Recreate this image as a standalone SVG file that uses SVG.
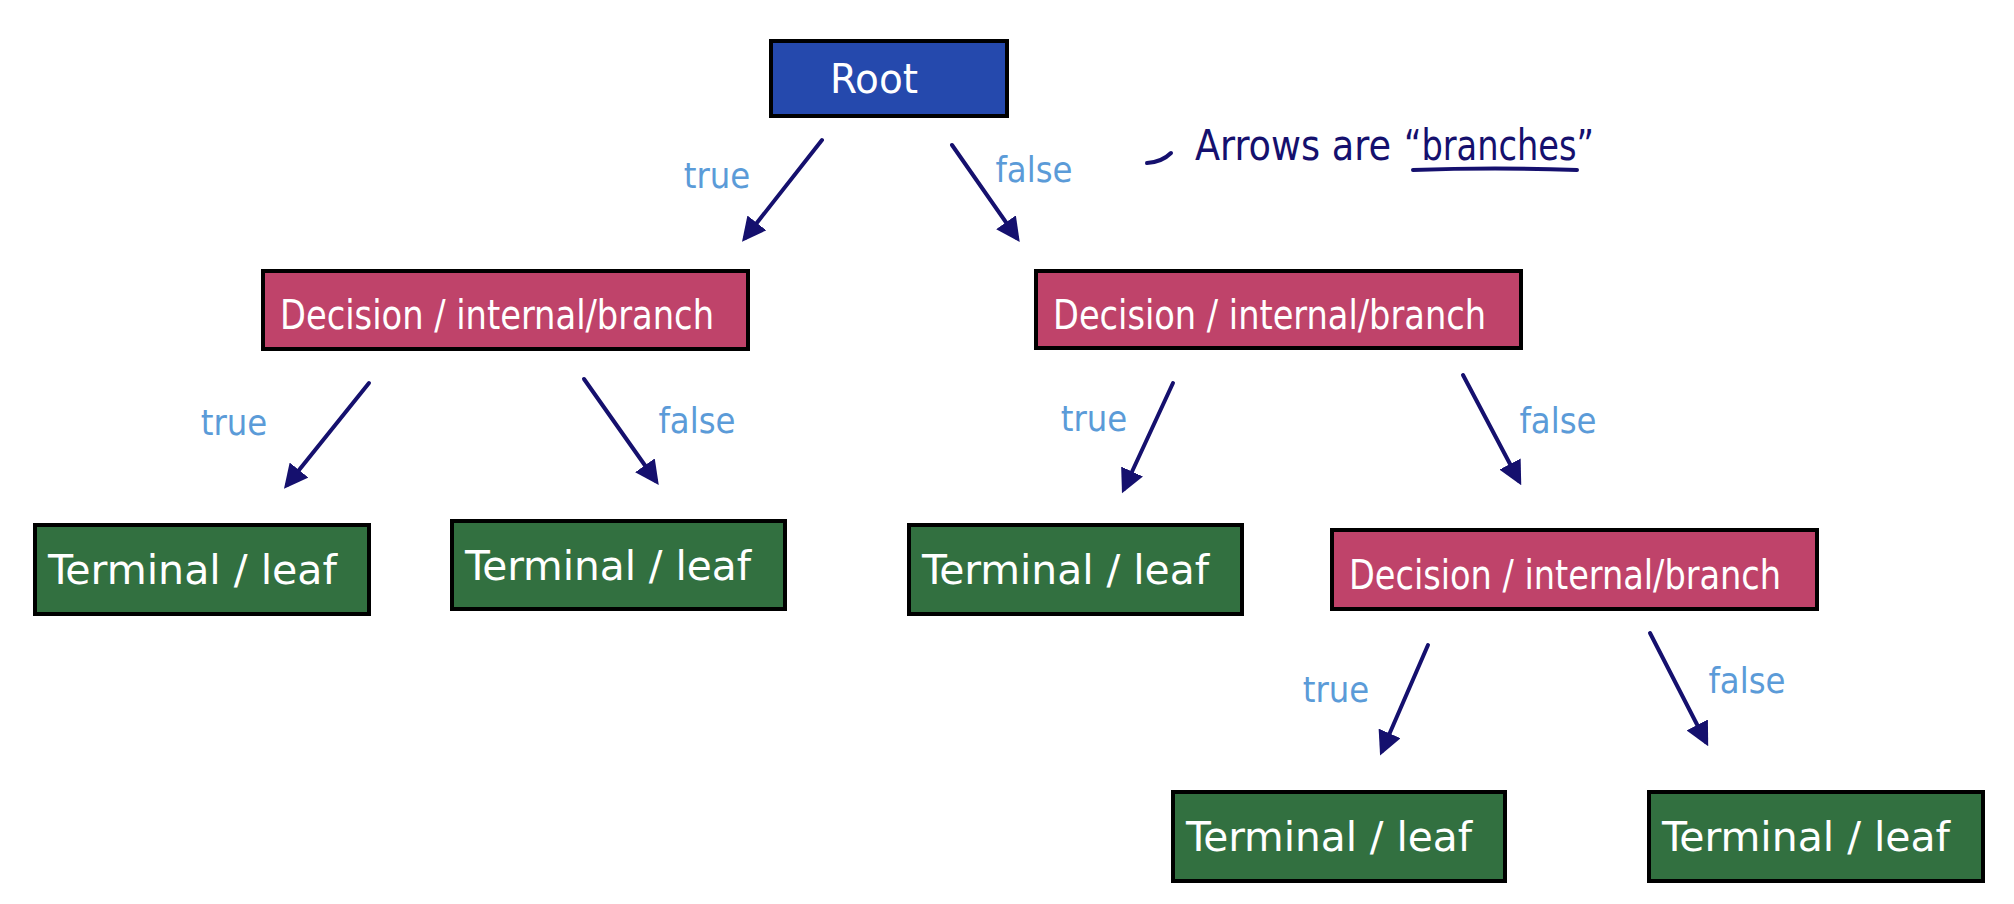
<svg xmlns="http://www.w3.org/2000/svg" width="2014" height="904" viewBox="0 0 2014 904">
<style>
.box{stroke:#000;stroke-width:4}
.root{fill:#2549ad}
.dec{fill:#bf436a}
.leaf{fill:#327040}
.t{font-family:"Liberation Sans Narrow","DejaVu Sans Condensed","Liberation Sans",sans-serif;fill:#fff;font-size:40px}
.lbl{font-family:"Liberation Sans Narrow","DejaVu Sans Condensed","Liberation Sans",sans-serif;fill:#5b9bd8;font-size:36px;text-anchor:middle}
.ann{font-family:"Liberation Sans Narrow","DejaVu Sans Condensed","Liberation Sans",sans-serif;fill:#15106e;font-size:42px}
.arr{stroke:#15106e;stroke-width:4;fill:none;stroke-linecap:round;marker-end:url(#ah)}
</style>
<defs>
<marker id="ah" viewBox="0 0 10 10" refX="8" refY="5" markerWidth="6" markerHeight="6" orient="auto" markerUnits="strokeWidth">
<path d="M0,0 L10,5 L0,10 z" fill="#15106e"/>
</marker>
</defs>
<rect width="2014" height="904" fill="#fff"/>
<g id="connectors">
<line class="arr" x1="822" y1="140" x2="745" y2="238"/>
<line class="arr" x1="952" y1="145" x2="1017" y2="238"/>
<line class="arr" x1="369" y1="383" x2="287" y2="485"/>
<line class="arr" x1="584" y1="379" x2="656" y2="481"/>
<line class="arr" x1="1173" y1="383" x2="1124" y2="489"/>
<line class="arr" x1="1463" y1="375" x2="1519" y2="481"/>
<line class="arr" x1="1428" y1="645" x2="1382" y2="751"/>
<line class="arr" x1="1650" y1="633" x2="1706" y2="742"/>
<text class="lbl" x="717" y="188">true</text>
<text class="lbl" x="1034" y="182">false</text>
<text class="lbl" x="234" y="435">true</text>
<text class="lbl" x="697" y="433">false</text>
<text class="lbl" x="1094" y="431">true</text>
<text class="lbl" x="1558" y="433">false</text>
<text class="lbl" x="1336" y="702">true</text>
<text class="lbl" x="1747" y="693">false</text>
</g>
<g id="root">
<rect class="box root" x="771" y="41" width="236" height="75"/>
<text class="t" x="830" y="93" textLength="88" lengthAdjust="spacingAndGlyphs">Root</text>
</g>
<g id="note">
<path d="M1147,163 Q1162,162 1171,153" stroke="#15106e" stroke-width="4" fill="none" stroke-linecap="round"/>
<text class="ann" x="1195" y="160" textLength="196" lengthAdjust="spacingAndGlyphs">Arrows are</text>
<text class="ann" x="1404" y="160" textLength="190" lengthAdjust="spacingAndGlyphs">“branches”</text>
<path d="M1413,170 Q1495,167 1577,170" stroke="#15106e" stroke-width="4" fill="none" stroke-linecap="round"/>
</g>
<g id="dec-left">
<rect class="box dec" x="263" y="271" width="485" height="78"/>
<text class="t" x="280" y="329" textLength="434" lengthAdjust="spacingAndGlyphs">Decision / internal/branch</text>
</g>
<g id="dec-right">
<rect class="box dec" x="1036" y="271" width="485" height="77"/>
<text class="t" x="1053" y="329" textLength="433" lengthAdjust="spacingAndGlyphs">Decision / internal/branch</text>
</g>
<g id="dec-rr">
<rect class="box dec" x="1332" y="530" width="485" height="79"/>
<text class="t" x="1349" y="589" textLength="432" lengthAdjust="spacingAndGlyphs">Decision / internal/branch</text>
</g>
<g id="leaf1">
<rect class="box leaf" x="35" y="525" width="334" height="89"/>
<text class="t" x="48" y="584" textLength="289" lengthAdjust="spacingAndGlyphs">Terminal / leaf</text>
</g>
<g id="leaf2">
<rect class="box leaf" x="452" y="521" width="333" height="88"/>
<text class="t" x="465" y="580" textLength="286" lengthAdjust="spacingAndGlyphs">Terminal / leaf</text>
</g>
<g id="leaf3">
<rect class="box leaf" x="909" y="525" width="333" height="89"/>
<text class="t" x="922" y="584" textLength="287" lengthAdjust="spacingAndGlyphs">Terminal / leaf</text>
</g>
<g id="leaf4">
<rect class="box leaf" x="1173" y="792" width="332" height="89"/>
<text class="t" x="1186" y="851" textLength="286" lengthAdjust="spacingAndGlyphs">Terminal / leaf</text>
</g>
<g id="leaf5">
<rect class="box leaf" x="1649" y="792" width="334" height="89"/>
<text class="t" x="1662" y="851" textLength="288" lengthAdjust="spacingAndGlyphs">Terminal / leaf</text>
</g>
</svg>
